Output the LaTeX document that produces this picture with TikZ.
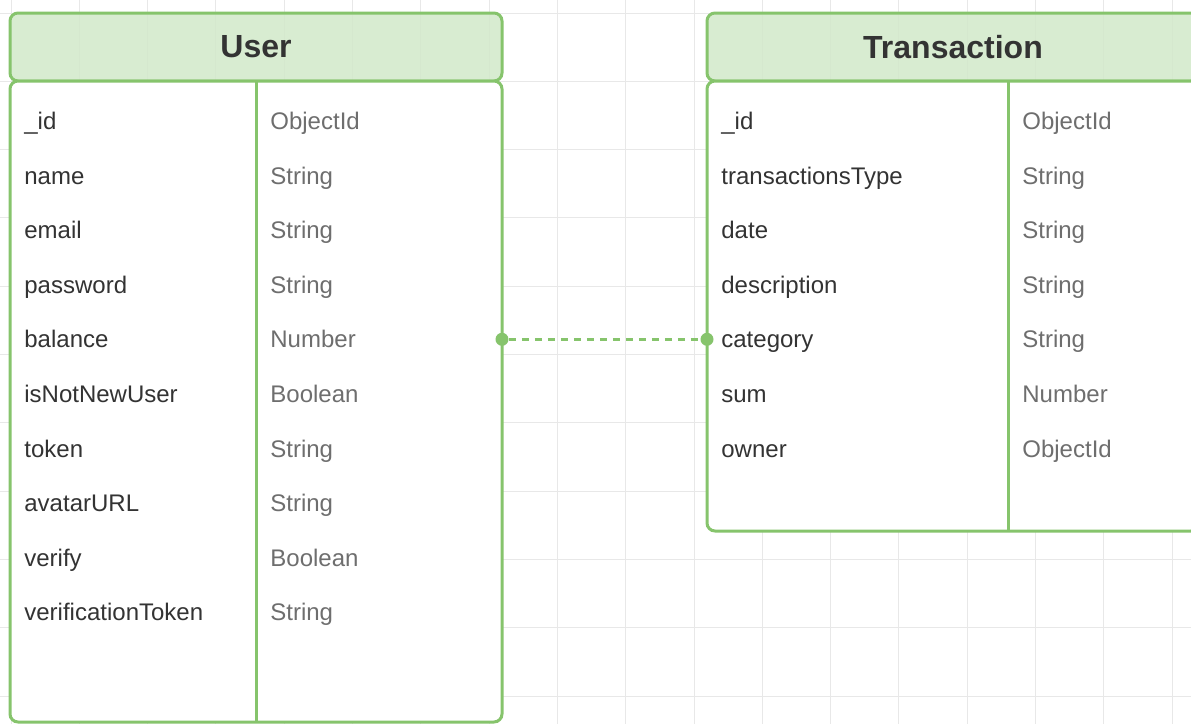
\documentclass[tikz,border=0pt]{standalone}
\usepackage{fontspec}
\setmainfont{Liberation Sans}
\usepackage{xcolor}
\usepackage{tikz}
\usetikzlibrary{positioning}
\definecolor{erdgreen}{HTML}{86C46C}
\definecolor{erdfill}{HTML}{D2E9CA}
\definecolor{erdink}{HTML}{333333}
\definecolor{erdtype}{HTML}{6E6E6E}
\definecolor{gridgray}{HTML}{E8E8E8}
\tikzset{
  gridln/.style   ={draw=gridgray, line width=0.5pt},
  tblhead/.style  ={rectangle, rounded corners=4pt, draw=erdgreen, fill=erdfill, fill opacity=0.85, text opacity=1,
                    line width=1.5pt, outer sep=0pt,
                    inner sep=0pt, anchor=north west, text=erdink, font=\bfseries\fontsize{16}{19}\selectfont},
  tblbody/.style  ={rectangle, rounded corners=4pt, draw=erdgreen, fill=white, line width=1.5pt, outer sep=0pt,
                    inner sep=0pt, anchor=north west},
  tblline/.style  ={draw=erdgreen, line width=1.5pt},
  fieldname/.style={anchor=base west, inner sep=0pt, text=erdink, font=\fontsize{12}{14}\selectfont},
  fieldtype/.style={anchor=base west, inner sep=0pt, text=erdtype, font=\fontsize{12}{14}\selectfont},
  enddot/.style   ={circle, fill=erdgreen, inner sep=0pt, minimum size=6.5pt},
  relation/.style ={draw=erdgreen, line width=1.2pt, dash pattern=on 3.5pt off 3pt},
}
\begin{document}
\begin{tikzpicture}[x=0.5pt, y=-0.5pt]
\clip (0,0) rectangle (1191,724);
\fill[white] (0,0) rectangle (1191,724);
% background grid
\foreach \k in {0,...,17} { \draw[gridln] (11+68.3*\k,0) -- (11+68.3*\k,724); }
\foreach \k in {0,...,10} { \draw[gridln] (0,13+68.3*\k) -- (1191,13+68.3*\k); }
% User table
\node[tblhead, minimum width=246pt, minimum height=34pt] (userhead) at (10,13) {User};
\node[tblbody, minimum width=246pt, minimum height=320.5pt] (userbody) at (userhead.south west) {};
\draw[tblline] (userbody.north) -- (userbody.south);
\foreach \fname/\ftype [count=\i from 0] in {\_id/ObjectId, name/String, email/String, password/String,
    balance/Number, isNotNewUser/Boolean, token/String, avatarURL/String, verify/Boolean, verificationToken/String} {
  \node[fieldname] (u\i) at (24,129.5+54.6*\i) {\fname};
  \node[fieldtype] (ut\i) at (270,129.5+54.6*\i) {\ftype};
}
% Transaction table
\node[tblhead, minimum width=246pt, minimum height=34pt] (txhead) at (707,13) {Transaction};
\node[tblbody, minimum width=246pt, minimum height=225pt] (txbody) at (txhead.south west) {};
\draw[tblline] ([xshift=150.5pt]txbody.north west) -- ([xshift=150.5pt]txbody.south west);
\foreach \fname/\ftype [count=\i from 0] in {\_id/ObjectId, transactionsType/String, date/String,
    description/String, category/String, sum/Number, owner/ObjectId} {
  \node[fieldname] (t\i) at (721,129.5+54.6*\i) {\fname};
  \node[fieldtype] (tt\i) at (1022,129.5+54.6*\i) {\ftype};
}
% relation
\node[enddot] (udot) at (userbody.east |- u4) {};
\node[enddot] (tdot) at (txbody.west |- udot) {};
\draw[relation] (udot) -- (tdot);
\end{tikzpicture}
\end{document}
